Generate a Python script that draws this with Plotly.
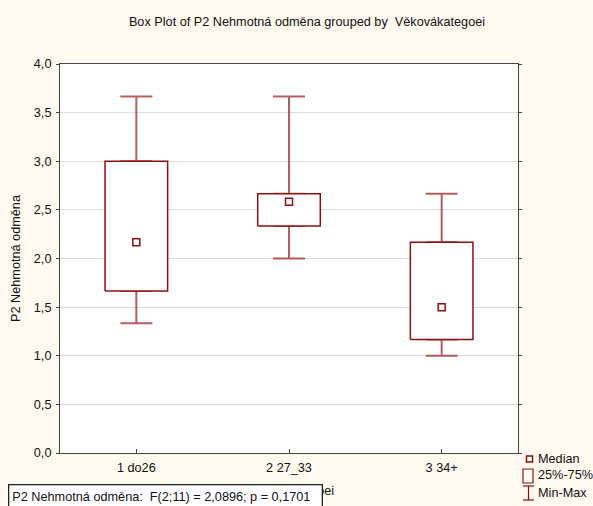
import plotly.graph_objects as go

categories = ["1 do26", "2 27_33", "3 34+"]
q_min = [1.333, 2.0, 1.0]
q1 = [1.667, 2.333, 1.167]
median = [2.167, 2.583, 1.5]
q3 = [3.0, 2.667, 2.167]
q_max = [3.667, 3.667, 2.667]
y_ticks = [0, 0.5, 1, 1.5, 2, 2.5, 3, 3.5, 4]

W, H = 593, 506
L, R, T, B = 60, 518, 64, 453
BG = "#FFF9EF"
BOX = "#8B1010"
WHISK = "rgba(150,25,25,0.7)"
FONT = "Liberation Sans, Arial, sans-serif"
FS = 12.7
HALF = 0.205  # half box width in category units

pos = list(range(len(categories)))


def px(x):
    return (x - L) / (R - L)


def py(y):
    return (B - y) / (B - T)


fig = go.Figure()

# whiskers (error bars from box edges out to min / max)
fig.add_trace(go.Scatter(
    x=pos, y=q3, mode="markers",
    marker=dict(color="rgba(0,0,0,0)", size=1),
    error_y=dict(type="data", symmetric=False,
                 array=[a - b for a, b in zip(q_max, q3)],
                 arrayminus=[0] * len(pos),
                 color=WHISK, thickness=2, width=16),
    showlegend=False, hoverinfo="skip"))
fig.add_trace(go.Scatter(
    x=pos, y=q1, mode="markers",
    marker=dict(color="rgba(0,0,0,0)", size=1),
    error_y=dict(type="data", symmetric=False,
                 array=[0] * len(pos),
                 arrayminus=[a - b for a, b in zip(q1, q_min)],
                 color=WHISK, thickness=2, width=16),
    showlegend=False, hoverinfo="skip"))

# boxes (25%-75%) drawn on top of whiskers
for i in pos:
    fig.add_trace(go.Scatter(
        x=[i - HALF, i + HALF, i + HALF, i - HALF, i - HALF],
        y=[q1[i], q1[i], q3[i], q3[i], q1[i]],
        mode="lines", fill="toself", fillcolor="white",
        line=dict(color=BOX, width=1.5),
        showlegend=False, hoverinfo="skip"))

# medians
fig.add_trace(go.Scatter(
    x=pos, y=median, mode="markers",
    marker=dict(symbol="square-open", size=7, color=BOX, line=dict(width=1.5, color=BOX)),
    showlegend=False, hoverinfo="skip"))

# legend drawn manually
shapes = [
    dict(type="rect", xref="paper", yref="paper",
         x0=px(526.5), x1=px(532.5), y0=py(462), y1=py(456),
         line=dict(color=BOX, width=1.5), fillcolor="white"),
    dict(type="rect", xref="paper", yref="paper",
         x0=px(523), x1=px(533), y0=py(483), y1=py(469),
         line=dict(color=BOX, width=1.2), fillcolor="rgba(0,0,0,0)"),
    dict(type="line", xref="paper", yref="paper",
         x0=px(528.5), x1=px(528.5), y0=py(500), y1=py(486),
         line=dict(color=BOX, width=1.2)),
    dict(type="line", xref="paper", yref="paper",
         x0=px(523), x1=px(534), y0=py(486), y1=py(486),
         line=dict(color=BOX, width=1.2)),
    dict(type="line", xref="paper", yref="paper",
         x0=px(523), x1=px(534), y0=py(500), y1=py(500),
         line=dict(color=BOX, width=1.2)),
]

annotations = []
for label, yc in [("Median", 459), ("25%-75%", 475), ("Min-Max", 493)]:
    annotations.append(dict(
        text=label, xref="paper", yref="paper", x=px(536), y=py(yc),
        xanchor="left", yanchor="middle", showarrow=False,
        font=dict(family=FONT, size=FS, color="#111")))

annotations.append(dict(
    text="P2 Nehmotná odměna:\u00a0 F(2;11) = 2,0896; p = 0,1701",
    xref="paper", yref="paper", x=px(8), y=py(484),
    xanchor="left", yanchor="top", align="left", showarrow=False,
    width=306, height=18, borderpad=3,
    bgcolor="white", bordercolor="#222", borderwidth=1.3,
    font=dict(family=FONT, size=FS, color="#111")))

fig.update_layout(
    width=W, height=H,
    margin=dict(l=L, r=W - R, t=T, b=H - B, autoexpand=False),
    paper_bgcolor=BG, plot_bgcolor="white",
    separators=", ",
    title=dict(text="Box Plot of P2 Nehmotná odměna grouped by\u00a0 Věkovákategoei",
               x=307 / W, xanchor="center", y=1 - 22 / H, yanchor="middle",
               font=dict(family=FONT, size=FS, color="#111")),
    font=dict(family=FONT, size=FS, color="#111"),
    shapes=shapes, annotations=annotations,
    showlegend=False,
    xaxis=dict(
        range=[-0.5, len(categories) - 0.5],
        tickvals=pos, ticktext=categories,
        showline=True, linecolor="#444", linewidth=1, mirror=True,
        ticks="inside", ticklen=4, tickcolor="#444", ticklabelstandoff=3,
        showgrid=False, zeroline=False, automargin=False,
        title=dict(text="Věkovákategoei", standoff=11,
                   font=dict(family=FONT, size=FS, color="#111")),
        tickfont=dict(family=FONT, size=FS, color="#111"),
        fixedrange=True),
    yaxis=dict(
        range=[0, 4], tickvals=y_ticks, tickformat=".1f",
        showline=True, linecolor="#444", linewidth=1, mirror="ticks",
        ticks="outside", ticklen=3, tickcolor="#444", ticklabelstandoff=2,
        showgrid=True, gridcolor="#DCDCDC", gridwidth=1, zeroline=False,
        automargin=False,
        title=dict(text="P2 Nehmotná odměna", standoff=10,
                   font=dict(family=FONT, size=FS, color="#111")),
        tickfont=dict(family=FONT, size=FS, color="#111"),
        fixedrange=True),
)

fig.write_html("out.html")
